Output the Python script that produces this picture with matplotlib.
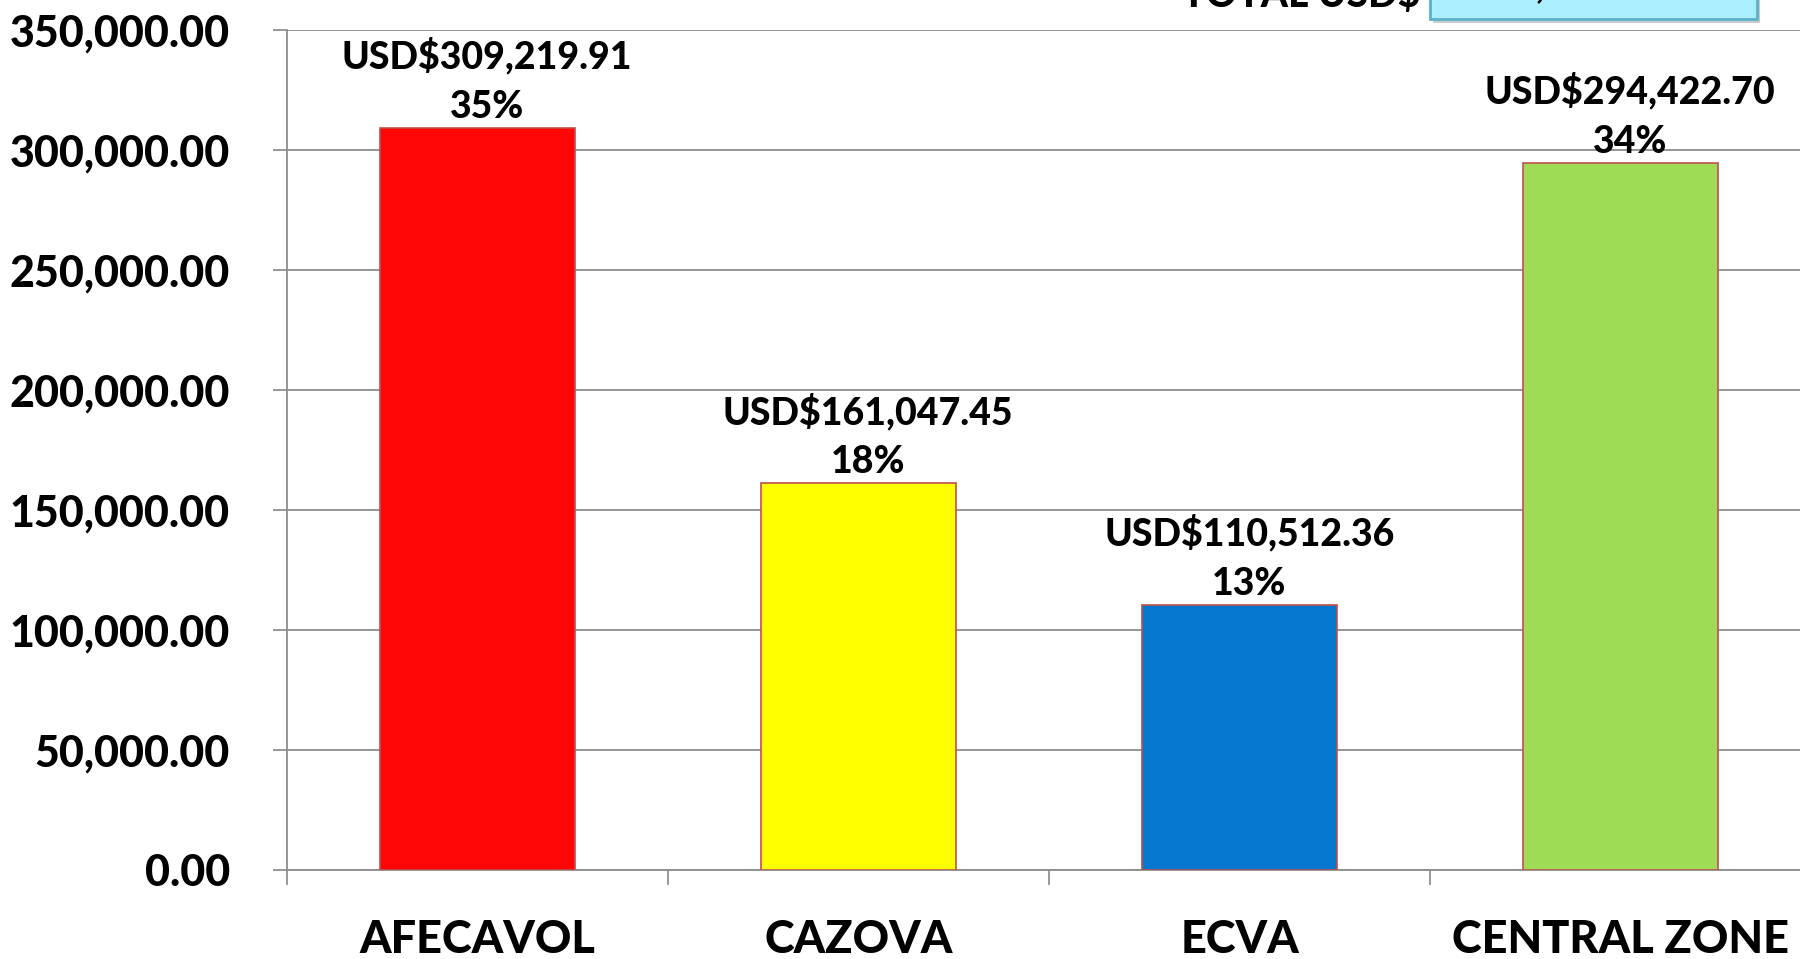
import matplotlib.pyplot as plt
from matplotlib.patches import Rectangle

categories = ["AFECAVOL", "CAZOVA", "ECVA", "CENTRAL ZONE"]
amounts = [309219.91, 161047.45, 110512.36, 294422.70]
bar_colors = ["#FF0606", "#FFFF00", "#0677CE", "#9EDC56"]
percents = ["35%", "18%", "13%", "34%"]
total_label = "875,202.42"

plt.rcParams['font.family'] = ['Lato', 'DejaVu Sans']
W = "black"

fig = plt.figure(figsize=(18, 9.59), dpi=100)
ax = fig.add_axes([287/1800, 1 - 870/959, (1811 - 287)/1800, (870 - 30)/959])

x = range(len(categories))
ax.bar(x, amounts, width=0.51, color=bar_colors, edgecolor="#C0504D", linewidth=1.2, zorder=3)

for i, v in enumerate(amounts):
    ax.annotate("USD$" + format(v, ",.2f") + "\n" + percents[i], xy=(i, v), xytext=(7, 3),
                textcoords="offset points", ha="center", va="bottom", fontsize=27,
                fontweight=W, linespacing=1.55)

ax.set_xlim(-0.5, 3.5)
ax.set_ylim(0, 350000)
ax.set_yticks(range(0, 350001, 50000))
ax.set_yticklabels([format(t, ",.2f") for t in range(0, 350001, 50000)], fontsize=31, fontweight=W)
ax.set_xticks(list(x))
ax.set_xticklabels(categories, fontsize=32.5, fontweight=W)
ax.set_xticks([-0.5, 0.5, 1.5, 2.5, 3.5], minor=True)
ax.tick_params(axis="x", which="major", length=0, pad=35)
ax.tick_params(axis="x", which="minor", length=11, width=1.2, color="#888888")
ax.tick_params(axis="y", length=10, width=1.2, color="#888888", pad=31)

ax.grid(axis="y", color="#8C8C8C", linewidth=1.3, zorder=0)
for s in ["top", "right"]:
    ax.spines[s].set_visible(False)
for s in ["left", "bottom"]:
    ax.spines[s].set_color("#8C8C8C")
    ax.spines[s].set_linewidth(1.3)

# total box, cut off at the top of the picture
fig.text(1420/1800, 1 - 7/959, "TOTAL USD$", ha="right", va="baseline", fontsize=28, fontweight=W)
fig.patches.append(Rectangle((1433/1800, 1 - 23/959), 327/1800, 60/959, transform=fig.transFigure,
                             facecolor="#999999", edgecolor="none", alpha=0.5, zorder=1))
fig.patches.append(Rectangle((1430/1800, 1 - 19/959), 327/1800, 60/959, transform=fig.transFigure,
                             facecolor="#ABEEFD", edgecolor="#5AB2CC", linewidth=2, zorder=2))
fig.text(1469/1800, 1 + 3/959, total_label, ha="left", va="baseline", fontsize=28, fontweight=W, zorder=3)

fig.savefig("out.png", dpi=100)
